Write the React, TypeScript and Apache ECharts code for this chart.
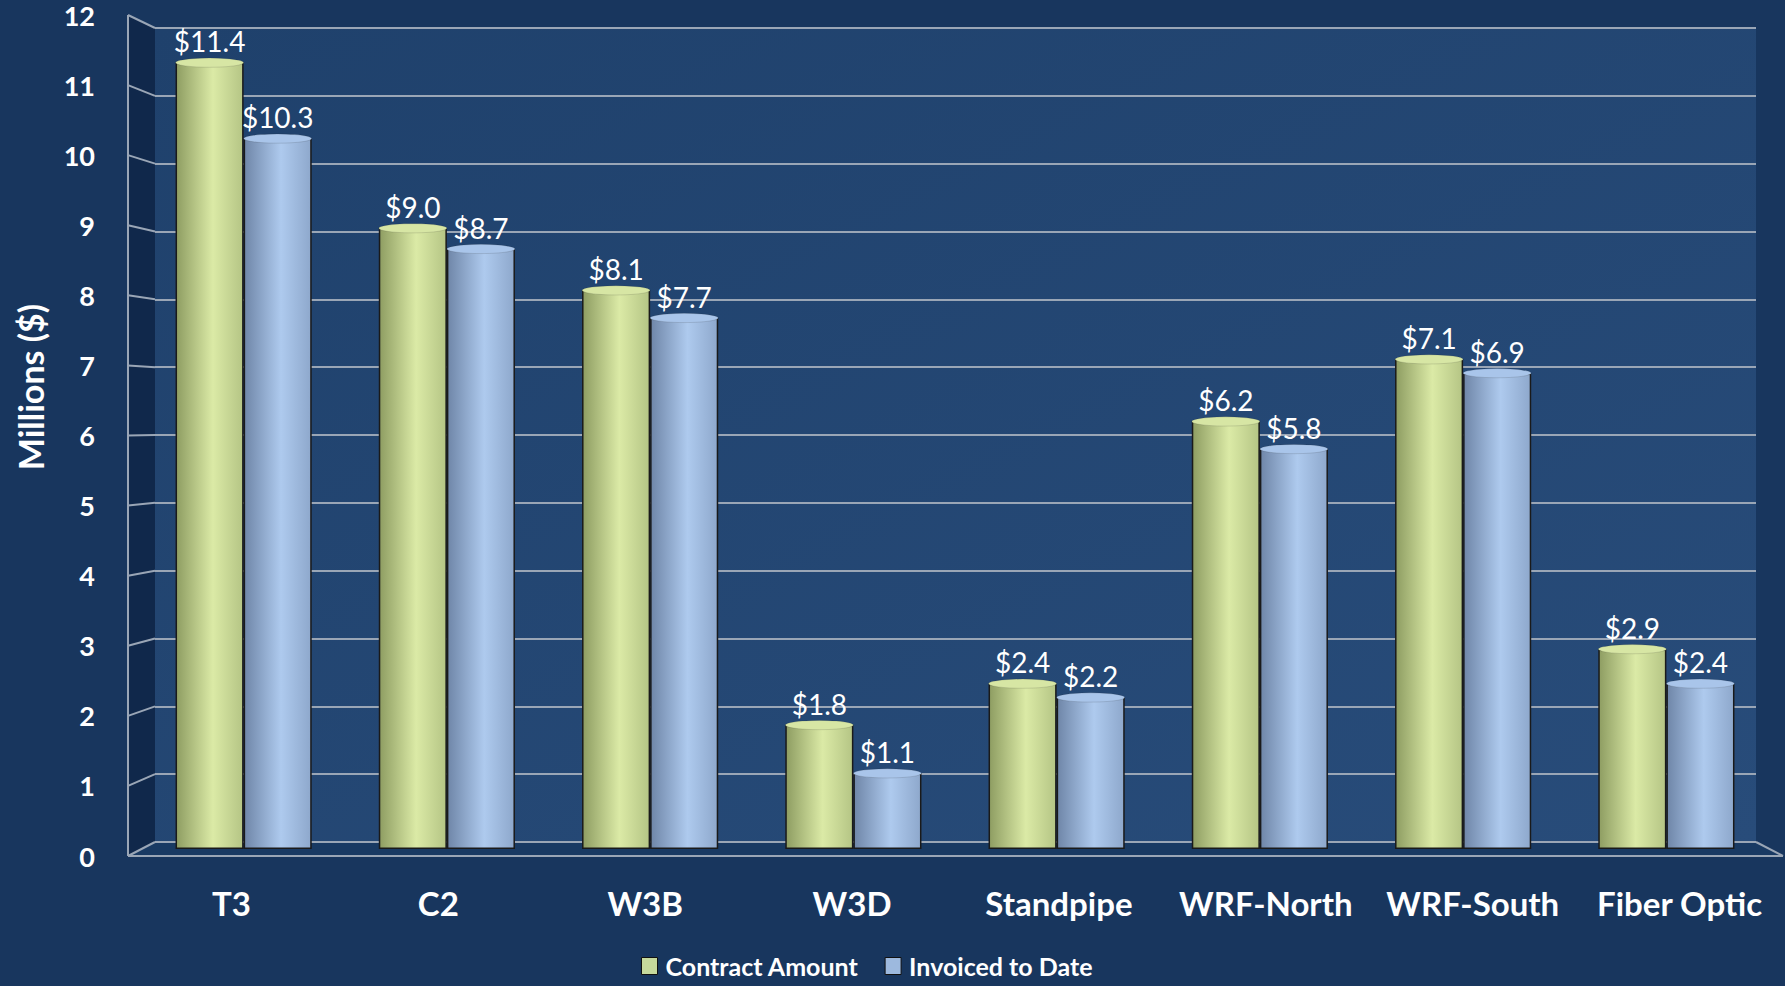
import React, { useEffect, useRef } from "react";
import * as echarts from "echarts";

const categories = ["T3", "C2", "W3B", "W3D", "Standpipe", "WRF-North", "WRF-South", "Fiber Optic"];
const contractAmount = [11.4, 9.0, 8.1, 1.8, 2.4, 6.2, 7.1, 2.9];
const invoicedToDate = [10.3, 8.7, 7.7, 1.1, 2.2, 5.8, 6.9, 2.4];
const yTicks = [0, 1, 2, 3, 4, 5, 6, 7, 8, 9, 10, 11, 12];
const seriesNames = ["Contract Amount", "Invoiced to Date"];
const yTitle = "Millions ($)";

const W = 1785;
const H = 986;
// layout: back plane, bar plane, front plane
const BACK = { left: 155, right: W - 1756, top: 28, bottom: H - 842 };
const MID = { left: 142, right: 17, top: 21, bottom: H - 849 };
const FRONT = { left: 128, right: W - 1783, top: 15, bottom: H - 856 };

const FONT = "Lato, 'Open Sans', sans-serif";
const LINE = "#9aa6b6";

function cyl(c1: string, c2: string, c3: string) {
  return new echarts.graphic.LinearGradient(0, 0, 1, 0, [
    { offset: 0, color: c1 },
    { offset: 0.55, color: c2 },
    { offset: 1, color: c3 },
  ]);
}

export default function App() {
  const ref = useRef<HTMLDivElement>(null);
  useEffect(() => {
    if (!ref.current) return;
    const chart = echarts.init(ref.current, null, { renderer: "svg" });
    const greenFill = cyl("#8e9d62", "#dbeaa6", "#b5c585");
    const blueFill = cyl("#6f86a8", "#aecaee", "#8ea8cc");
    const valueLabel = {
      show: true,
      position: "top",
      distance: 7,
      color: "#ffffff",
      fontFamily: FONT,
      fontSize: 28,
      formatter: (p: any) => "$" + Number(p.value).toFixed(1),
    };
    const option: any = {
      animation: false,
      backgroundColor: "#18365e",
      grid: [
        {
          ...BACK,
          show: true,
          borderWidth: 0,
          backgroundColor: new echarts.graphic.LinearGradient(0, 0, 1, 1, [
            { offset: 0, color: "#1f416c" },
            { offset: 1, color: "#284c7a" },
          ]),
        },
        { ...MID },
        { ...FRONT },
      ],
      xAxis: [
        { type: "category", gridIndex: 0, data: categories, show: false },
        { type: "category", gridIndex: 1, data: categories, show: false },
        {
          type: "category",
          gridIndex: 2,
          data: categories,
          axisLine: { show: false },
          axisTick: { show: false },
          axisLabel: {
            color: "#ffffff",
            fontFamily: FONT,
            fontWeight: "bold",
            fontSize: 33,
            margin: 30,
            interval: 0,
            hideOverlap: false,
          },
        },
      ],
      yAxis: [
        {
          type: "value",
          gridIndex: 0,
          min: 0,
          max: 12,
          interval: 1,
          axisLabel: { show: false },
          axisLine: { show: false },
          axisTick: { show: false },
          splitLine: { show: true, lineStyle: { color: LINE, width: 2 } },
        },
        { type: "value", gridIndex: 1, min: 0, max: 12, interval: 1, show: false, splitLine: { show: false } },
        {
          type: "value",
          gridIndex: 2,
          min: 0,
          max: 12,
          interval: 1,
          axisLine: { show: false },
          axisTick: { show: false },
          splitLine: { show: false },
          axisLabel: {
            color: "#ffffff",
            fontFamily: FONT,
            fontWeight: "bold",
            fontSize: 27,
            margin: 33,
            padding: [8, 0, 0, 0],
          },
        },
      ],
      legend: {
        left: 636,
        top: 948,
        itemWidth: 16,
        itemHeight: 17,
        itemGap: 26,
        icon: "rect",
        textStyle: {
          color: "#ffffff",
          fontFamily: FONT,
          fontWeight: "bold",
          fontSize: 25,
          lineHeight: 26,
          padding: [0, 0, 0, 3],
        },
        data: [
          { name: seriesNames[0], itemStyle: { color: "#c6d99c", borderColor: "#111111", borderWidth: 1 } },
          { name: seriesNames[1], itemStyle: { color: "#9db9de", borderColor: "#111111", borderWidth: 1 } },
        ],
      },
      series: [
        {
          name: seriesNames[0],
          type: "bar",
          xAxisIndex: 1,
          yAxisIndex: 1,
          data: contractAmount,
          barGap: "0%",
          barCategoryGap: "33%",
          itemStyle: { color: greenFill, borderColor: "#1a1a1a", borderWidth: 1.5 },
          label: valueLabel,
          z: 3,
        },
        {
          name: seriesNames[1],
          type: "bar",
          xAxisIndex: 1,
          yAxisIndex: 1,
          data: invoicedToDate,
          barGap: "0%",
          barCategoryGap: "33%",
          itemStyle: { color: blueFill, borderColor: "#1a1a1a", borderWidth: 1.5 },
          label: valueLabel,
          z: 3,
        },
        {
          name: "cap-a",
          type: "pictorialBar",
          xAxisIndex: 1,
          yAxisIndex: 1,
          data: contractAmount,
          barGap: "0%",
          barCategoryGap: "33%",
          symbol: "circle",
          symbolSize: ["100%", 9],
          symbolPosition: "end",
          symbolOffset: [0, "-50%"],
          itemStyle: { color: "#d7e6a4", borderColor: "#1a1a1a", borderWidth: 1.5 },
          z: 4,
          silent: true,
        },
        {
          name: "cap-b",
          type: "pictorialBar",
          xAxisIndex: 1,
          yAxisIndex: 1,
          data: invoicedToDate,
          barGap: "0%",
          barCategoryGap: "33%",
          symbol: "circle",
          symbolSize: ["100%", 9],
          symbolPosition: "end",
          symbolOffset: [0, "-50%"],
          itemStyle: { color: "#a9c5ea", borderColor: "#1a1a1a", borderWidth: 1.5 },
          z: 4,
          silent: true,
        },
      ],
    };
    chart.setOption(option);

    // 3D wall and floor decorations derived from axis scales
    const fy = (v: number) => chart.convertToPixel({ yAxisIndex: 2 } as any, v) as number;
    const by = (v: number) => chart.convertToPixel({ yAxisIndex: 0 } as any, v) as number;
    const fL = FRONT.left;
    const fR = W - FRONT.right;
    const bL = BACK.left;
    const bR = W - BACK.right;
    const y0f = fy(0);
    const y0b = by(0);
    const ytf = fy(12);
    const ytb = by(12);
    const elements: any[] = [
      {
        type: "polygon",
        shape: { points: [[fL, y0f], [fL, ytf], [bL, ytb], [bL, y0b]] },
        style: { fill: "#10284b" },
        z: -1,
      },
      {
        type: "polygon",
        shape: { points: [[fL, y0f], [bL, y0b], [bR, y0b], [fR, y0f]] },
        style: { fill: "#193a63" },
        z: -1,
      },
      {
        type: "line",
        shape: { x1: fL, y1: y0f, x2: fL, y2: ytf },
        style: { stroke: LINE, lineWidth: 2 },
        z: 1,
      },
      {
        type: "line",
        shape: { x1: fL, y1: y0f, x2: fR, y2: y0f },
        style: { stroke: LINE, lineWidth: 2 },
        z: 1,
      },
      {
        type: "line",
        shape: { x1: bR, y1: y0b, x2: fR, y2: y0f },
        style: { stroke: LINE, lineWidth: 2 },
        z: 1,
      },
      {
        type: "text",
        x: 30,
        y: 387,
        rotation: Math.PI / 2,
        style: {
          text: yTitle,
          fill: "#ffffff",
          font: "bold 34px " + FONT,
          textAlign: "center",
          textVerticalAlign: "middle",
        },
        z: 2,
      },
    ];
    yTicks.forEach((v) => {
      elements.push({
        type: "line",
        shape: { x1: fL, y1: fy(v), x2: bL, y2: by(v) },
        style: { stroke: LINE, lineWidth: 2 },
        z: 1,
      });
    });
    chart.setOption({ graphic: { elements } });

    return () => chart.dispose();
  }, []);
  return (
    <div
      ref={ref}
      style={{ position: "fixed", left: 0, top: 0, width: W + "px", height: H + "px" }}
    />
  );
}
